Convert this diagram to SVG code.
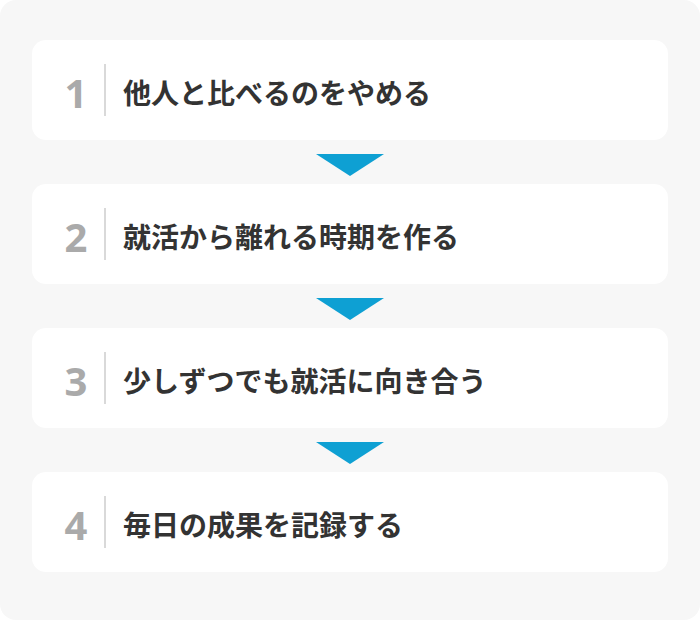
<svg xmlns="http://www.w3.org/2000/svg" width="700" height="620" viewBox="0 0 700 620">
<style>
.card{fill:#ffffff}
.num{font-family:"Noto Sans","DejaVu Sans",sans-serif;font-weight:700;font-size:40px;fill:#aaaaaa;text-anchor:middle}
.sep{stroke:#cccccc;stroke-width:1.5}
.lbl{font-family:"Noto Sans CJK JP","Noto Sans",sans-serif;font-weight:700;font-size:28px;fill:#333333;dominant-baseline:central}
.arr{fill:#0ea0d3}
</style>
<rect x="0" y="0" width="700" height="620" fill="#ffffff"/>
<rect x="0" y="0" width="700" height="620" rx="16" fill="#f7f7f7"/>
<g id="connectors">
<polygon class="arr" points="316,154 384,154 350,176"/>
<polygon class="arr" points="316,298 384,298 350,320"/>
<polygon class="arr" points="316,442 384,442 350,464"/>
</g>
<g id="step1">
<rect class="card" x="32" y="40" width="636" height="100" rx="14"/>
<text class="num" x="76" y="108">1</text>
<line class="sep" x1="105" y1="64" x2="105" y2="116"/>
<text class="lbl" x="123" y="92">他人と比べるのをやめる</text>
</g>
<g id="step2">
<rect class="card" x="32" y="184" width="636" height="100" rx="14"/>
<text class="num" x="76" y="252">2</text>
<line class="sep" x1="105" y1="208" x2="105" y2="260"/>
<text class="lbl" x="123" y="236">就活から離れる時期を作る</text>
</g>
<g id="step3">
<rect class="card" x="32" y="328" width="636" height="100" rx="14"/>
<text class="num" x="76" y="396">3</text>
<line class="sep" x1="105" y1="352" x2="105" y2="404"/>
<text class="lbl" x="123" y="380">少しずつでも就活に向き合う</text>
</g>
<g id="step4">
<rect class="card" x="32" y="472" width="636" height="100" rx="14"/>
<text class="num" x="76" y="540">4</text>
<line class="sep" x1="105" y1="496" x2="105" y2="548"/>
<text class="lbl" x="123" y="524">毎日の成果を記録する</text>
</g>
</svg>
